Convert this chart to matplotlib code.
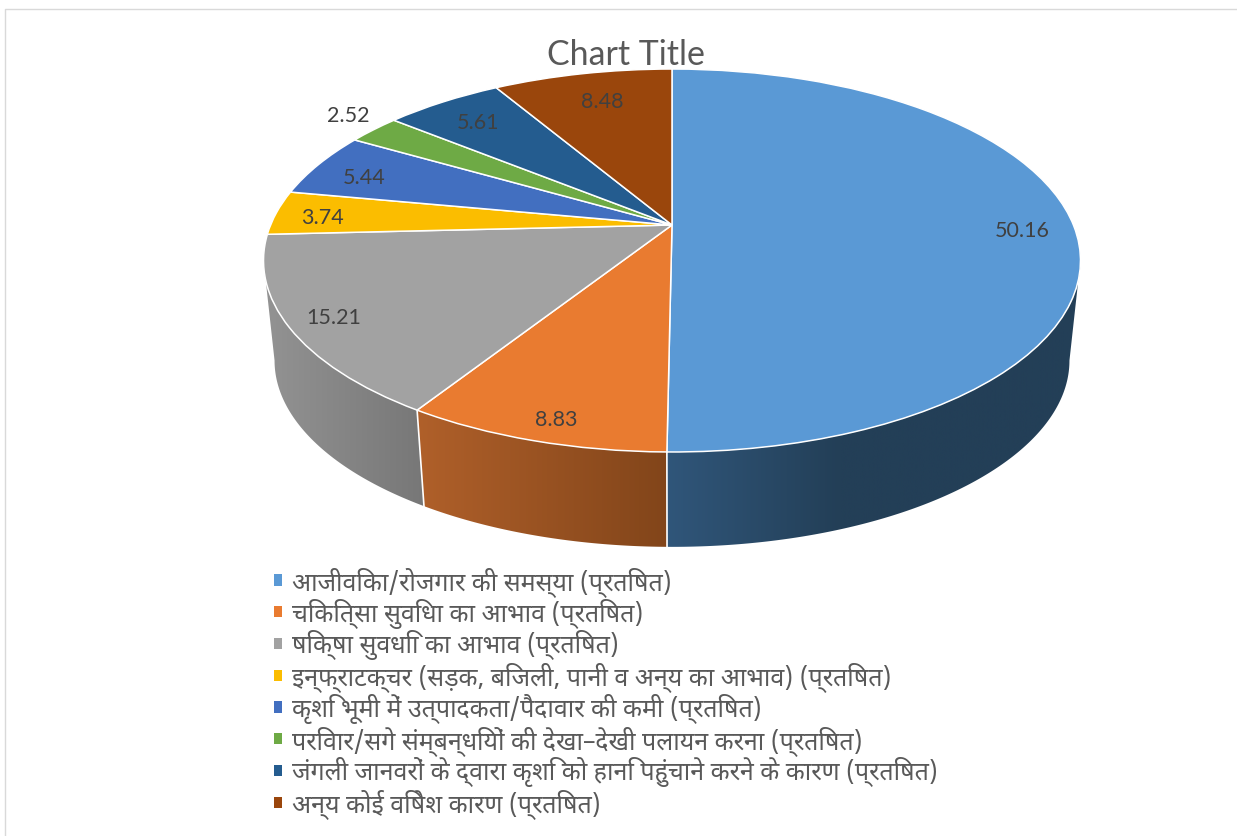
import numpy as np
import matplotlib
matplotlib.use("Agg")
import matplotlib.pyplot as plt
from matplotlib.colors import LinearSegmentedColormap
from matplotlib.patches import Patch, Polygon
from matplotlib.transforms import Transform

valores = [50.16, 8.83, 15.21, 3.74, 5.44, 2.52, 5.61, 8.48]
cores = ["#5a99d5", "#e97b30", "#a2a2a2", "#fbbd00", "#426fc0", "#6eaa45", "#245c8f", "#9a460c"]
rotulos = [
    "आजीविका/रोजगार की समस्या (प्रतिषत)",
    "चिकित्सा सुविधा का आभाव (प्रतिषत)",
    "षिक्षा सुवधिा का आभाव (प्रतिषत)",
    "इन्फ्राटक्चर (सड़क, बिजली, पानी व अन्य का आभाव) (प्रतिषत)",
    "कृशि भूमी में उत्पादकता/पैदावार की कमी (प्रतिषत)",
    "परिवार/सगे संम्बन्धियों की देखा–देखी पलायन करना (प्रतिषत)",
    "जंगली जानवरों के द्वारा कृशि को हानि पहुंचाने करने के कारण (प्रतिषत)",
    "अन्य कोई विषेश कारण (प्रतिषत)",
]
# onde cada numero fica na imagem (pixels)
pos_rotulos = [(1022, 231), (556, 420), (334, 318), (322, 218),
               (364, 178), (348, 116), (478, 123), (602, 102)]
# gradiente da lateral: cor esquerda, cor direita, x final do gradiente
lateral = {0: ("#30567a", "#233f57", 840), 1: ("#b0602a", "#82451a", 667), 2: ("#939393", "#777777", 424)}

plt.rcParams["font.family"] = ["Lato", "DejaVu Sans"]
fig = plt.figure(figsize=(12.37, 8.37), dpi=100)
ax = fig.add_axes([0, 0, 1, 1])

# perspectiva do disco
cx, cy = 672, 226
a, b, k = 401.4, 184.9, 0.1854
escala, desce = 0.973, 101


def projeta(u, v):
    d = 1 + k * v
    return cx + a * u / d, cy - b * v / d


class Perspectiva(Transform):
    input_dims = 2
    output_dims = 2

    def transform_non_affine(self, xy):
        xy = np.asarray(xy, dtype=float)
        x, y = projeta(xy[:, 0], xy[:, 1])
        return np.column_stack((x, y))


fatias, _ = ax.pie(valores, colors=cores, startangle=90, counterclock=False,
                   wedgeprops=dict(edgecolor="white", linewidth=1.1, zorder=5))
ax.set_aspect("auto")
for w in fatias:
    w.set_transform(Perspectiva() + ax.transData)

# lateral: gradiente recortado pelo contorno de cada fatia
limites = np.cumsum([0] + valores) / sum(valores) * 2 * np.pi
inicio = np.arccos(-k)
fim = 2 * np.pi - inicio
for i in lateral:
    t0, t1 = max(limites[i], inicio), min(limites[i + 1], fim)
    ts = np.linspace(t0, t1, 200)
    x_top, y_top = projeta(np.sin(ts), np.cos(ts))
    x_bot = cx + escala * (x_top - cx)
    y_bot = cy + escala * (y_top - cy) + desce
    c1, c2, x_fim = lateral[i]
    x_min = min(x_top.min(), x_bot.min())
    x_max = max(x_top.max(), x_bot.max())
    cmap = LinearSegmentedColormap.from_list("lat", [c1, c2])
    grad = np.clip((np.linspace(x_min, x_max, 512) - x_min) / (x_fim - x_min), 0, 1)
    img = ax.imshow(grad[None, :], cmap=cmap, vmin=0, vmax=1, aspect="auto", zorder=2,
                    extent=(x_min, x_max, y_bot.max() + 2, y_top.min() - 2))
    contorno = Polygon(np.column_stack((np.r_[x_top, x_bot[::-1]], np.r_[y_top, y_bot[::-1]])),
                       transform=ax.transData)
    img.set_clip_path(contorno)
    # separador branco entre as fatias
    if limites[i] >= inicio:
        ax.plot([x_top[0], x_bot[0]], [y_top[0], y_bot[0]], color="white", lw=1.2, zorder=3)

ax.set_xlim(0, 1237)
ax.set_ylim(837, 0)
ax.axis("off")

for v, (x, y) in zip(valores, pos_rotulos):
    ax.text(x, y, f"{v:.2f}", fontsize=15.5, color="#404040", ha="center", va="center", zorder=6)

ax.text(626, 55, "Chart Title", fontsize=24.4, color="#595959", ha="center", va="center", zorder=6)

# moldura
ax.plot([5, 5, 1237], [837, 10, 10], color="#d9d9d9", lw=1, zorder=1)

marcas = [Patch(facecolor=c, edgecolor="none") for c in cores]
ax.legend(marcas, rotulos, loc="upper left", bbox_to_anchor=(274, 567), bbox_transform=ax.transData,
          frameon=False, prop={"family": ["Noto Sans Devanagari UI", "FreeSans", "DejaVu Sans"], "size": 18},
          handlelength=0.32, handleheight=0.32, handletextpad=0.4, labelspacing=0.07,
          labelcolor="#595959", borderpad=0, borderaxespad=0)
fig.savefig("out.png", dpi=100)
